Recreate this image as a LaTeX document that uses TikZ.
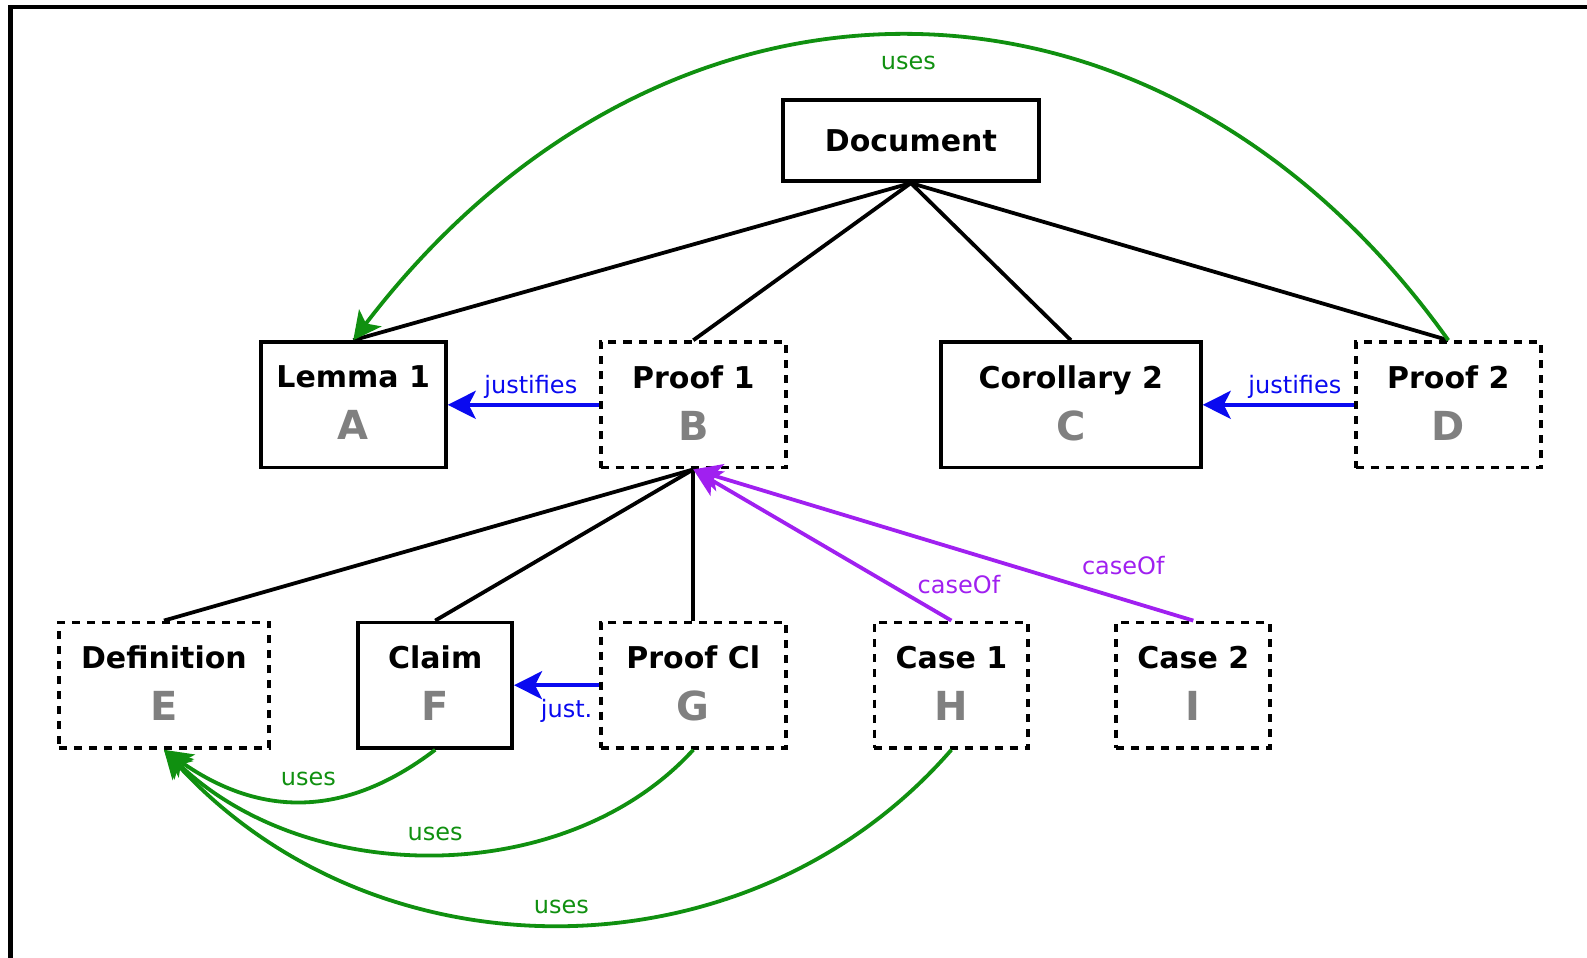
\documentclass[tikz,border=0pt]{standalone}
\usepackage{fontspec}
\setmainfont{DejaVu Sans}
\usetikzlibrary{arrows.meta}

\definecolor{usegreen}{RGB}{16,144,16}
\definecolor{justblue}{RGB}{10,10,240}
\definecolor{casepurple}{RGB}{160,32,240}

\newcommand{\boxtext}[2]{\textbf{#1}\\{\fontsize{20}{20}\selectfont\bfseries\color{gray}#2}\rule[-2pt]{0pt}{2pt}}

\begin{document}
\begin{tikzpicture}[x=0.506pt, y=-0.506pt,
        box/.style = {draw, line width=1.9pt, minimum height=62.7pt, align=center, inner sep=0pt, font=\fontsize{15}{26}\selectfont},
        proofbox/.style = {box, dash pattern=on 4pt off 3.5pt},
        tree/.style = {draw, line width=1.9pt},
        tip/.style = {-{Stealth[length=14pt, width=14pt, inset=3.5pt]}},
        justifies/.style = {draw, justblue, line width=1.9pt},
        caseof/.style = {draw, casepurple, line width=1.9pt},
        uses/.style = {tip, draw, usegreen, line width=1.9pt},
        lbl/.style = {font=\fontsize{12}{14}\selectfont, inner sep=2pt} ]
        \useasboundingbox (0,0) rectangle (1568,946);
        \draw[line width=2.4pt] (10,980) -- (10,7) -- (1600,7);

        \node at (900,139) [box, minimum height=40.5pt, minimum width=128pt] (doc) {\textbf{Document}};

        \node at (349,400) [box, minimum width=92.6pt] (lem) {\boxtext{Lemma 1}{A}};
        \node at (685,400) [proofbox, minimum width=92.6pt] (pr1) {\boxtext{Proof 1}{B}};
        \node at (1058,400) [box, minimum width=130pt] (cor) {\boxtext{Corollary 2}{C}};
        \node at (1431,400) [proofbox, minimum width=92.6pt] (pr2) {\boxtext{Proof 2}{D}};

        \node at (162,677) [proofbox, minimum width=105.2pt] (def) {\boxtext{Definition}{E}};
        \node at (430,677) [box, minimum width=76.9pt] (clm) {\boxtext{Claim}{F}};
        \node at (685,677) [proofbox, minimum width=92.6pt] (prc) {\boxtext{Proof Cl}{G}};
        \node at (940,677) [proofbox, minimum width=76.9pt] (cs1) {\boxtext{Case 1}{H}};
        \node at (1179,677) [proofbox, minimum width=76.9pt] (cs2) {\boxtext{Case 2}{I}};

        % structure
        \path[tree]
        (doc.south) edge (lem.north)
        (doc.south) edge (pr1.north)
        (doc.south) edge (cor.north)
        (doc.south) edge (pr2.north)
        (pr1.south) edge (def.north)
        (pr1.south) edge (clm.north)
        (pr1.south) edge (prc.north);

        % justifications
        \path[justifies]
        (pr1.west) edge[tip] node[lbl, above, pos=0.45] {justifies} (lem.east)
        (pr2.west) edge[tip] node[lbl, above, pos=0.39] {justifies} (cor.east)
        (prc.west) edge[tip] node[lbl, below, pos=0.38, yshift=-4pt] {just.} (clm.east);

        % cases
        \path[caseof]
        (cs1.north) edge[tip] node[lbl, pos=0.2, anchor=west, xshift=6pt, yshift=3pt] {caseOf} (pr1.south)
        (cs2.north) edge[tip] node[lbl, pos=0.14, above, yshift=9.5pt] {caseOf} (pr1.south);

        % uses
        \draw[uses] (pr2.north) .. controls +(-286,-401) and +(306,-401) .. node[lbl, below, yshift=-7pt] {uses} (lem.north);
        \draw[uses] (clm.south) .. controls +(-80,61) and +(103,73) .. node[lbl, above, yshift=4.7pt] {uses} (def.south);
        \draw[uses] (prc.south) .. controls +(-125,137) and +(142,137) .. node[lbl, above, yshift=3.7pt] {uses} (def.south);
        \draw[uses] (cs1.south) .. controls +(-200,230) and +(210,230) .. node[lbl, above, yshift=2.3pt] {uses} (def.south);

    \end{tikzpicture}
\end{document}
